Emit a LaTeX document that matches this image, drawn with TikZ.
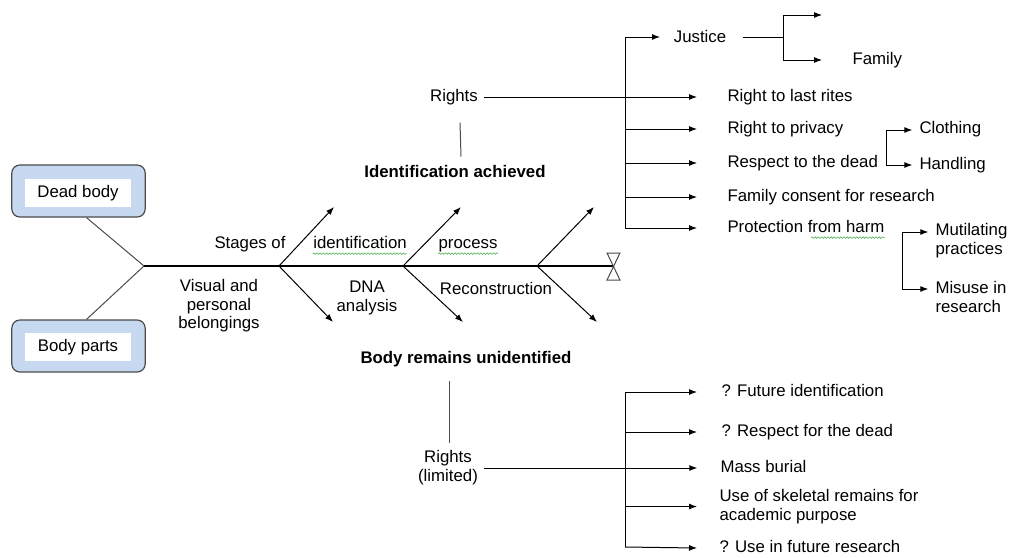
\documentclass[tikz,border=0pt]{standalone}
\usepackage{fontspec}
\setmainfont{Liberation Sans}
\usetikzlibrary{arrows.meta,positioning,decorations.pathmorphing}
\definecolor{boxblue}{RGB}{198,217,241}
\definecolor{inkgray}{RGB}{75,75,75}
\definecolor{spellgreen}{RGB}{70,175,70}

\begin{document}
\begin{tikzpicture}[x=0.75pt, y=-0.75pt, line width=0.75pt,
  lbl/.style={font=\fontsize{12.6}{13.9}\selectfont, inner sep=0pt, text height=9.1pt, text depth=2.6pt},
  lbls/.style={font=\fontsize{12.6}{13.9}\selectfont, inner sep=0pt, align=center},
  lbll/.style={font=\fontsize{12.6}{13.9}\selectfont, inner sep=0pt, align=left},
  heading/.style={lbl, font=\fontsize{12.6}{13.9}\selectfont\bfseries},
  arr/.style={-{Latex[length=6pt,width=4.5pt]}},
  wavy/.style={draw=spellgreen, line width=0.4pt, decorate, decoration={snake, amplitude=0.6pt, segment length=2.4pt}},
  outerbox/.style={draw=inkgray, fill=boxblue, rounded corners=6pt, line width=0.9pt, minimum width=100pt, minimum height=39pt},
  innerbox/.style={fill=white, inner sep=0pt, minimum width=79.5pt, minimum height=21pt, font=\fontsize{12.6}{13.9}\selectfont}]
\useasboundingbox (0,0) rectangle (1012,557);

\node[outerbox] (deadbox) at (78.5,191) {};
\node[innerbox] (dead) at (78,193) {Dead body};
\node[outerbox] (partsbox) at (78.5,346) {};
\node[innerbox] (parts) at (78,347) {Body parts};

\coordinate (tail) at (144,266);
\coordinate (s1) at (279,266);
\coordinate (s2) at (403,266);
\coordinate (s3) at (537,266);
\coordinate (head) at (613,266);
\coordinate (u1) at (334,207);
\coordinate (d1) at (333,322);
\coordinate (u2) at (461,207);
\coordinate (d2) at (463,322);
\coordinate (u3) at (594,207);
\coordinate (d3) at (597,322);

\draw[inkgray] ([xshift=6pt]deadbox.south) -- (tail);
\draw[inkgray] ([xshift=6pt]partsbox.north) -- (tail);
\draw[line width=0.9pt] (tail) -- (head);
\draw[inkgray] (607,253) -- (620,253) -- (607,280) -- (620,280) -- cycle;
\begin{scope}[arr]
  \draw (s1) -- (u1);
  \draw (s1) -- (d1);
  \draw (s2) -- (u2);
  \draw (s2) -- (d2);
  \draw (s3) -- (u3);
  \draw (s3) -- (d3);
\end{scope}

\node[lbl] (stages) at (250,244) {Stages of};
\node[lbl] (ident) at (360,244) {identification};
\node[lbl] (process) at (468,244) {process};
\draw[wavy] ([yshift=-1pt]ident.south west) -- ([yshift=-1pt]ident.south east);
\draw[wavy] ([yshift=-1pt]process.south west) -- ([yshift=-1pt]process.south east);
\node[lbls] (visual) at (219,306) {Visual and\\personal\\belongings};
\node[lbls] (dna) at (367,298) {DNA\\analysis};
\node[lbl] (recon) at (496,290) {Reconstruction};

\node[heading] (achieved) at (455,173) {Identification achieved};
\node[lbl] (rights) at (454,97) {Rights};
\draw[inkgray] ([xshift=4.5pt,yshift=6pt]achieved.north) -- ([xshift=4.5pt,yshift=-13pt]rights.south);

\coordinate (bt) at (625,37);
\coordinate (bb) at (625,229);
\draw (bt) -- (bb);
\node[lbl] (justice) at (700,38) {Justice};
\draw[arr] (bt) -- ([xshift=-10pt]bt -| justice.west);
\node[lbl, anchor=west] (lastrites) at (727,97) {Right to last rites};
\node[lbl, anchor=west] (privacy) at (727,129) {Right to privacy};
\node[lbl, anchor=west] (respect) at (727,163) {Respect to the dead};
\node[lbl, anchor=west] (consent) at (727,197) {Family consent for research};
\node[lbl, anchor=west] (prot) at (727,228) {Protection from harm};
\draw[wavy] ([xshift=63pt,yshift=-1pt]prot.south west) -- ([yshift=-1pt]prot.south east);
\draw[arr] ([xshift=4.5pt]rights.east) -- ([xshift=-22.5pt]lastrites.west);
\draw[arr] (privacy.west -| bt) -- ([xshift=-22.5pt]privacy.west);
\draw[arr] (respect.west -| bt) -- ([xshift=-22.5pt]respect.west);
\draw[arr] (consent.west -| bt) -- ([xshift=-22.5pt]consent.west);
\draw[arr] (prot.west -| bt) -- ([xshift=-22.5pt]prot.west);

\coordinate (jfork) at (783,37);
\coordinate (jtop) at (783,15);
\coordinate (jtip) at (822,15);
\node[lbl, anchor=west] (family) at (852,60) {Family};
\draw ([xshift=12pt]jfork -| justice.east) -- (jfork);
\draw (jtop) -- (783,60);
\draw[arr] (jtop) -- (jtip);
\draw[arr] (783,60) -- ([xshift=-22.5pt]family.west);

\node[lbl, anchor=west] (clothing) at (919,129) {Clothing};
\node[lbl, anchor=west] (handling) at (919,165) {Handling};
\coordinate (cfork) at (886,130);
\draw[arr] (cfork) -- ([xshift=-5pt]cfork -| clothing.west);
\draw[arr] (cfork) |- ([xshift=-5pt]handling.west);

\node[lbll, anchor=west] (mutil) at (935,240.5) {Mutilating\\practices};
\node[lbll, anchor=west] (misuse) at (935,297) {Misuse in\\research};
\coordinate (pfork) at (902,232);
\coordinate (pbot) at (902,289);
\draw (pfork) -- (pbot);
\draw[arr] (pfork) -- ([xshift=-5pt]pfork -| mutil.west);
\draw[arr] (pbot) -- ([xshift=-5pt]pbot -| misuse.west);

\node[heading] (unident) at (466,359) {Body remains unidentified};
\node[lbls] (limited) at (448,467.5) {Rights\\(limited)};
\draw[inkgray] ([xshift=-12.75pt,yshift=-10.5pt]unident.south) -- ([xshift=0.75pt,yshift=5pt]limited.north);

\coordinate (lt) at (625,392);
\coordinate (lb) at (625,547);
\draw (lt) -- (lb);
\node[lbl, anchor=west] (future) at (721,392) {? Future identification};
\node[lbl, anchor=west] (respdead) at (721,432) {? Respect for the dead};
\node[lbl, anchor=west] (mass) at (720,468) {Mass burial};
\node[lbll, anchor=west] (skeletal) at (719,506.5) {Use of skeletal remains for\\academic purpose};
\node[lbl, anchor=west] (useres) at (719,548) {? Use in future research};
\draw[arr] (lt) -- ([xshift=-18pt]future.west);
\draw[arr] (respdead.west -| lt) -- ([xshift=-18pt]respdead.west);
\draw[arr] ([xshift=4.5pt]limited.east |- mass.west) -- ([xshift=-17pt]mass.west);
\draw[arr] (skeletal.west -| lt) -- ([xshift=-16.5pt]skeletal.west);
\draw[arr] (lb) -- ([xshift=-16.5pt]useres.west);

\end{tikzpicture}
\end{document}
